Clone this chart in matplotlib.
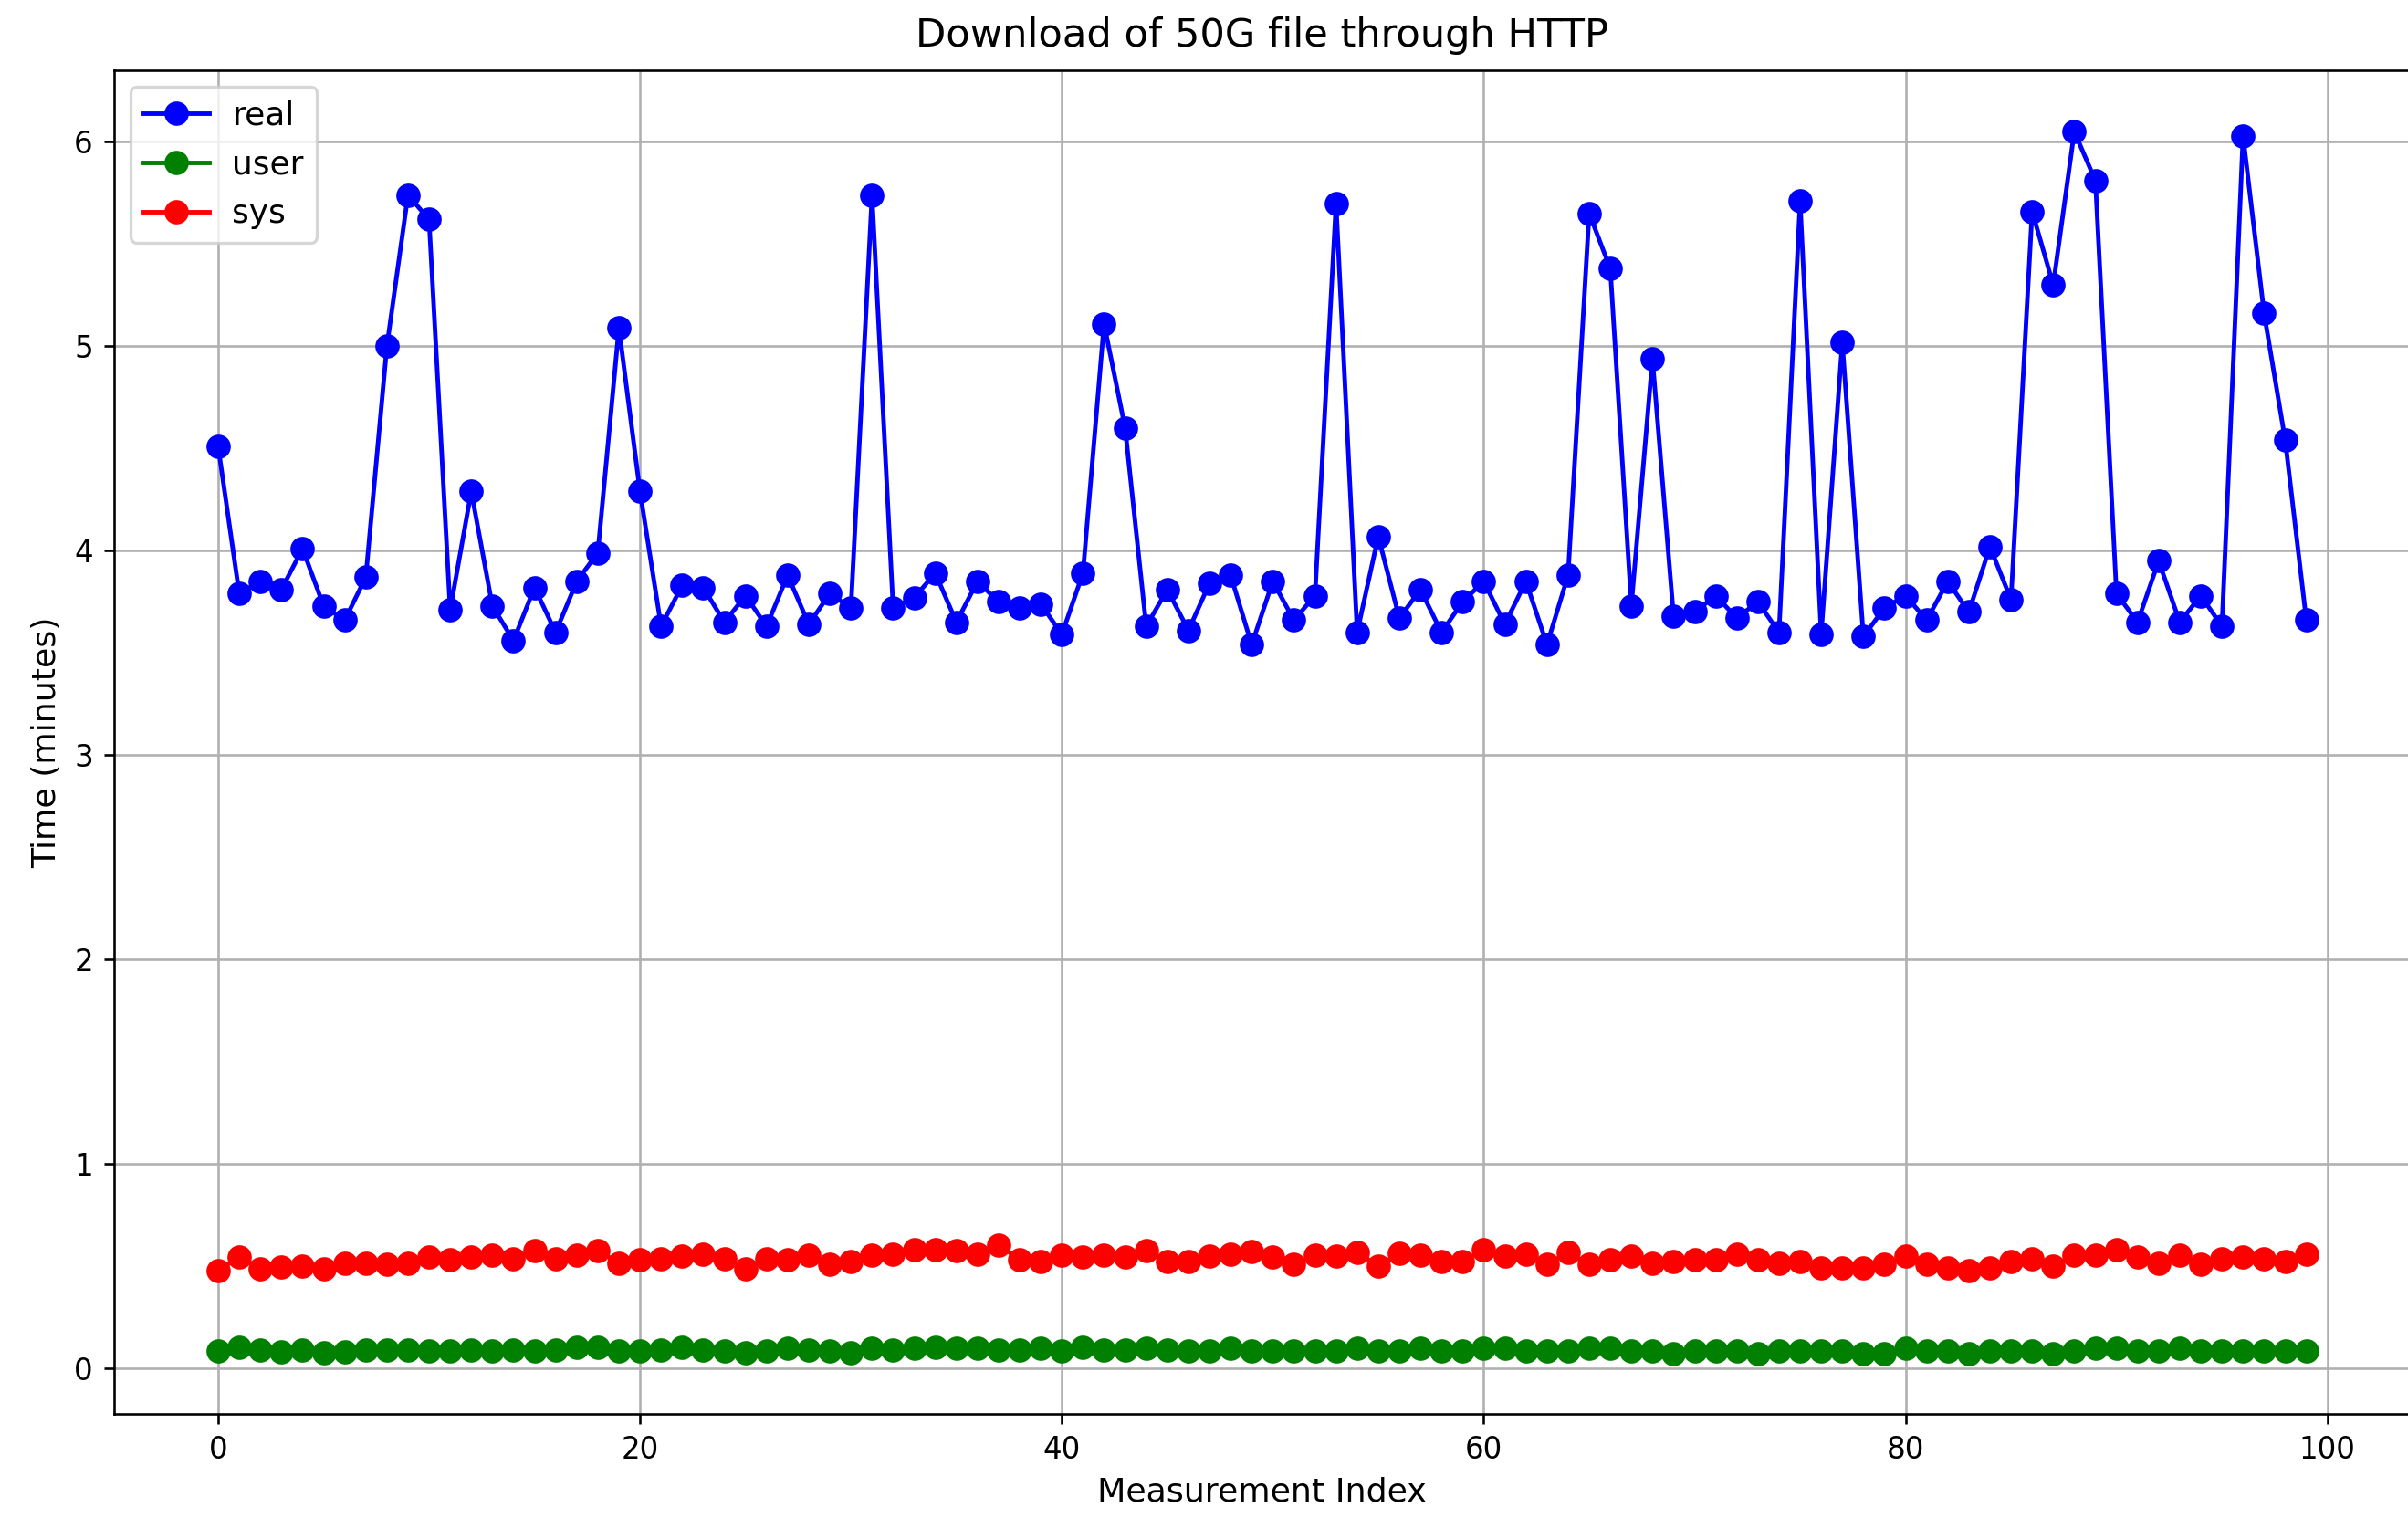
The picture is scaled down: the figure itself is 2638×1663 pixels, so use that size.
import matplotlib
matplotlib.use("Agg")
import matplotlib.pyplot as plt
import numpy as np

# ---- data ----
index = list(range(100))

real = [4.51, 3.79, 3.85, 3.81, 4.01, 3.73, 3.66, 3.87, 5.00, 5.74,
        5.62, 3.71, 4.29, 3.73, 3.56, 3.82, 3.60, 3.85, 3.99, 5.09,
        4.29, 3.63, 3.83, 3.82, 3.65, 3.78, 3.63, 3.88, 3.64, 3.79,
        3.72, 5.74, 3.72, 3.77, 3.89, 3.65, 3.85, 3.75, 3.72, 3.74,
        3.59, 3.89, 5.11, 4.60, 3.63, 3.81, 3.61, 3.84, 3.88, 3.54,
        3.85, 3.66, 3.78, 5.70, 3.60, 4.07, 3.67, 3.81, 3.60, 3.75,
        3.85, 3.64, 3.85, 3.54, 3.88, 5.65, 5.38, 3.73, 4.94, 3.68,
        3.70, 3.78, 3.67, 3.75, 3.60, 5.71, 3.59, 5.02, 3.58, 3.72,
        3.78, 3.66, 3.85, 3.70, 4.02, 3.76, 5.66, 5.30, 6.05, 5.81,
        3.79, 3.65, 3.95, 3.65, 3.78, 3.63, 6.03, 5.16, 4.54, 3.66]

user = [0.083, 0.101, 0.089, 0.079, 0.089, 0.074, 0.079, 0.089, 0.089, 0.089,
        0.086, 0.086, 0.089, 0.086, 0.089, 0.086, 0.089, 0.101, 0.101, 0.086,
        0.086, 0.089, 0.101, 0.089, 0.086, 0.074, 0.086, 0.098, 0.089, 0.086,
        0.074, 0.098, 0.089, 0.098, 0.101, 0.098, 0.098, 0.089, 0.089, 0.098,
        0.086, 0.101, 0.089, 0.089, 0.098, 0.089, 0.086, 0.086, 0.098, 0.086,
        0.086, 0.086, 0.086, 0.086, 0.098, 0.086, 0.086, 0.098, 0.086, 0.086,
        0.098, 0.098, 0.086, 0.086, 0.086, 0.098, 0.098, 0.086, 0.086, 0.071,
        0.086, 0.086, 0.086, 0.071, 0.086, 0.086, 0.086, 0.086, 0.071, 0.071,
        0.098, 0.086, 0.086, 0.071, 0.086, 0.086, 0.086, 0.071, 0.086, 0.098,
        0.098, 0.086, 0.086, 0.098, 0.086, 0.086, 0.086, 0.086, 0.086, 0.086]

sys_t = [0.479, 0.545, 0.489, 0.496, 0.501, 0.489, 0.516, 0.516, 0.508, 0.516,
         0.545, 0.533, 0.545, 0.553, 0.538, 0.575, 0.538, 0.553, 0.575, 0.516,
         0.533, 0.538, 0.548, 0.557, 0.538, 0.489, 0.538, 0.530, 0.553, 0.508,
         0.523, 0.553, 0.560, 0.582, 0.582, 0.575, 0.560, 0.604, 0.533, 0.523,
         0.553, 0.545, 0.553, 0.545, 0.575, 0.523, 0.523, 0.548, 0.557, 0.572,
         0.545, 0.508, 0.553, 0.548, 0.567, 0.501, 0.563, 0.553, 0.523, 0.523,
         0.582, 0.548, 0.560, 0.508, 0.567, 0.508, 0.530, 0.548, 0.513, 0.523,
         0.530, 0.530, 0.560, 0.533, 0.516, 0.523, 0.493, 0.493, 0.493, 0.508,
         0.548, 0.508, 0.493, 0.479, 0.493, 0.523, 0.538, 0.501, 0.553, 0.553,
         0.582, 0.545, 0.516, 0.553, 0.508, 0.538, 0.545, 0.538, 0.523, 0.560]

labels = ["real", "user", "sys"]
colors = ["blue", "green", "red"]

title = "Download of 50G file through HTTP"
xlabel = "Measurement Index"
ylabel = "Time (minutes)"

# ---- figure ----
DPI = 234
W, H = 2638, 1663
fig = plt.figure(figsize=(W / DPI, H / DPI), dpi=DPI)

left = 124.6 / W
right = 2641.0 / W
bottom = 1 - 1549.0 / H
top = 1 - 77.0 / H
ax = fig.add_axes([left, bottom, right - left, top - bottom])

for series, lab, col in zip([real, user, sys_t], labels, colors):
    ax.plot(index, series, marker="o", color=col, label=lab,
            markersize=7.2, linewidth=1.5)

ax.set_xlim(-4.95, 103.95)
ax.set_ylim(-0.223, 6.35)
ax.set_xticks([0, 20, 40, 60, 80, 100])
ax.set_yticks([0, 1, 2, 3, 4, 5, 6])
ax.tick_params(labelsize=10)
ax.grid(True)

ax.set_title(title, fontsize=13.3, pad=8)
ax.set_xlabel(xlabel, fontsize=11.2)
ax.set_ylabel(ylabel, fontsize=11.2)
ax.legend(loc="upper left", fontsize=11.1, handlelength=2.0,
          handletextpad=0.7, labelspacing=0.55)

fig.savefig("out.png", dpi=DPI)
